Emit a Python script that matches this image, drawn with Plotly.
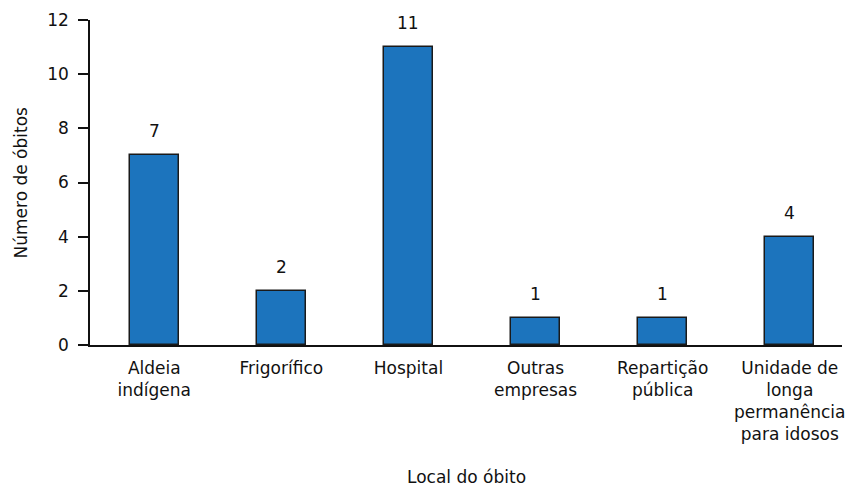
import plotly.graph_objects as go

# Local do óbito e número de óbitos
locais = [
    "Aldeia<br>indígena",
    "Frigorífico",
    "Hospital",
    "Outras<br>empresas",
    "Repartição<br>pública",
    "Unidade de<br>longa<br>permanência<br>para idosos",
]
obitos = [7, 2, 11, 1, 1, 4]
y_ticks = [0, 2, 4, 6, 8, 10, 12]

FONT = "DejaVu Sans"
FS = 17
INK = "#111111"

fig = go.Figure(
    go.Bar(
        x=list(range(len(locais))),
        y=obitos,
        width=0.384,
        marker=dict(color="#1c74bd", line=dict(color="#1a1a1a", width=1.5)),
        hoverinfo="skip",
    )
)

# valores acima das barras
for i, v in enumerate(obitos):
    fig.add_annotation(
        x=i, y=v, text=str(v), showarrow=False,
        yanchor="bottom", yshift=12,
        font=dict(family=FONT, size=FS, color=INK),
    )

# títulos dos eixos
fig.add_annotation(
    xref="paper", yref="paper", x=0.5, y=0, yshift=-132,
    text="Local do óbito", showarrow=False,
    xanchor="center", yanchor="middle",
    font=dict(family=FONT, size=FS, color=INK),
)
fig.add_annotation(
    xref="paper", yref="paper", x=0, y=0.5, xshift=-70,
    text="Número de óbitos", showarrow=False, textangle=-90,
    xanchor="center", yanchor="middle",
    font=dict(family=FONT, size=FS, color=INK),
)

fig.update_layout(
    width=845, height=486,
    margin=dict(l=90, r=0, t=20, b=141),
    paper_bgcolor="white", plot_bgcolor="white",
    font=dict(family=FONT, size=FS, color=INK),
    showlegend=False,
    bargap=0,
)

fig.update_xaxes(
    range=[-0.5055, 5.411],
    tickmode="array", tickvals=list(range(len(locais))), ticktext=locais,
    ticklabeloverflow="allow", ticklabelstandoff=7,
    showline=True, linecolor=INK, linewidth=1.5,
    ticks="", showgrid=False, zeroline=False,
)
fig.update_yaxes(
    range=[0, 12], tickvals=y_ticks,
    showline=True, linecolor=INK, linewidth=1.5,
    ticks="outside", ticklen=10, tickwidth=1.5, tickcolor=INK,
    ticklabelstandoff=6,
    showgrid=False, zeroline=False,
)

fig.write_html("out.html")
